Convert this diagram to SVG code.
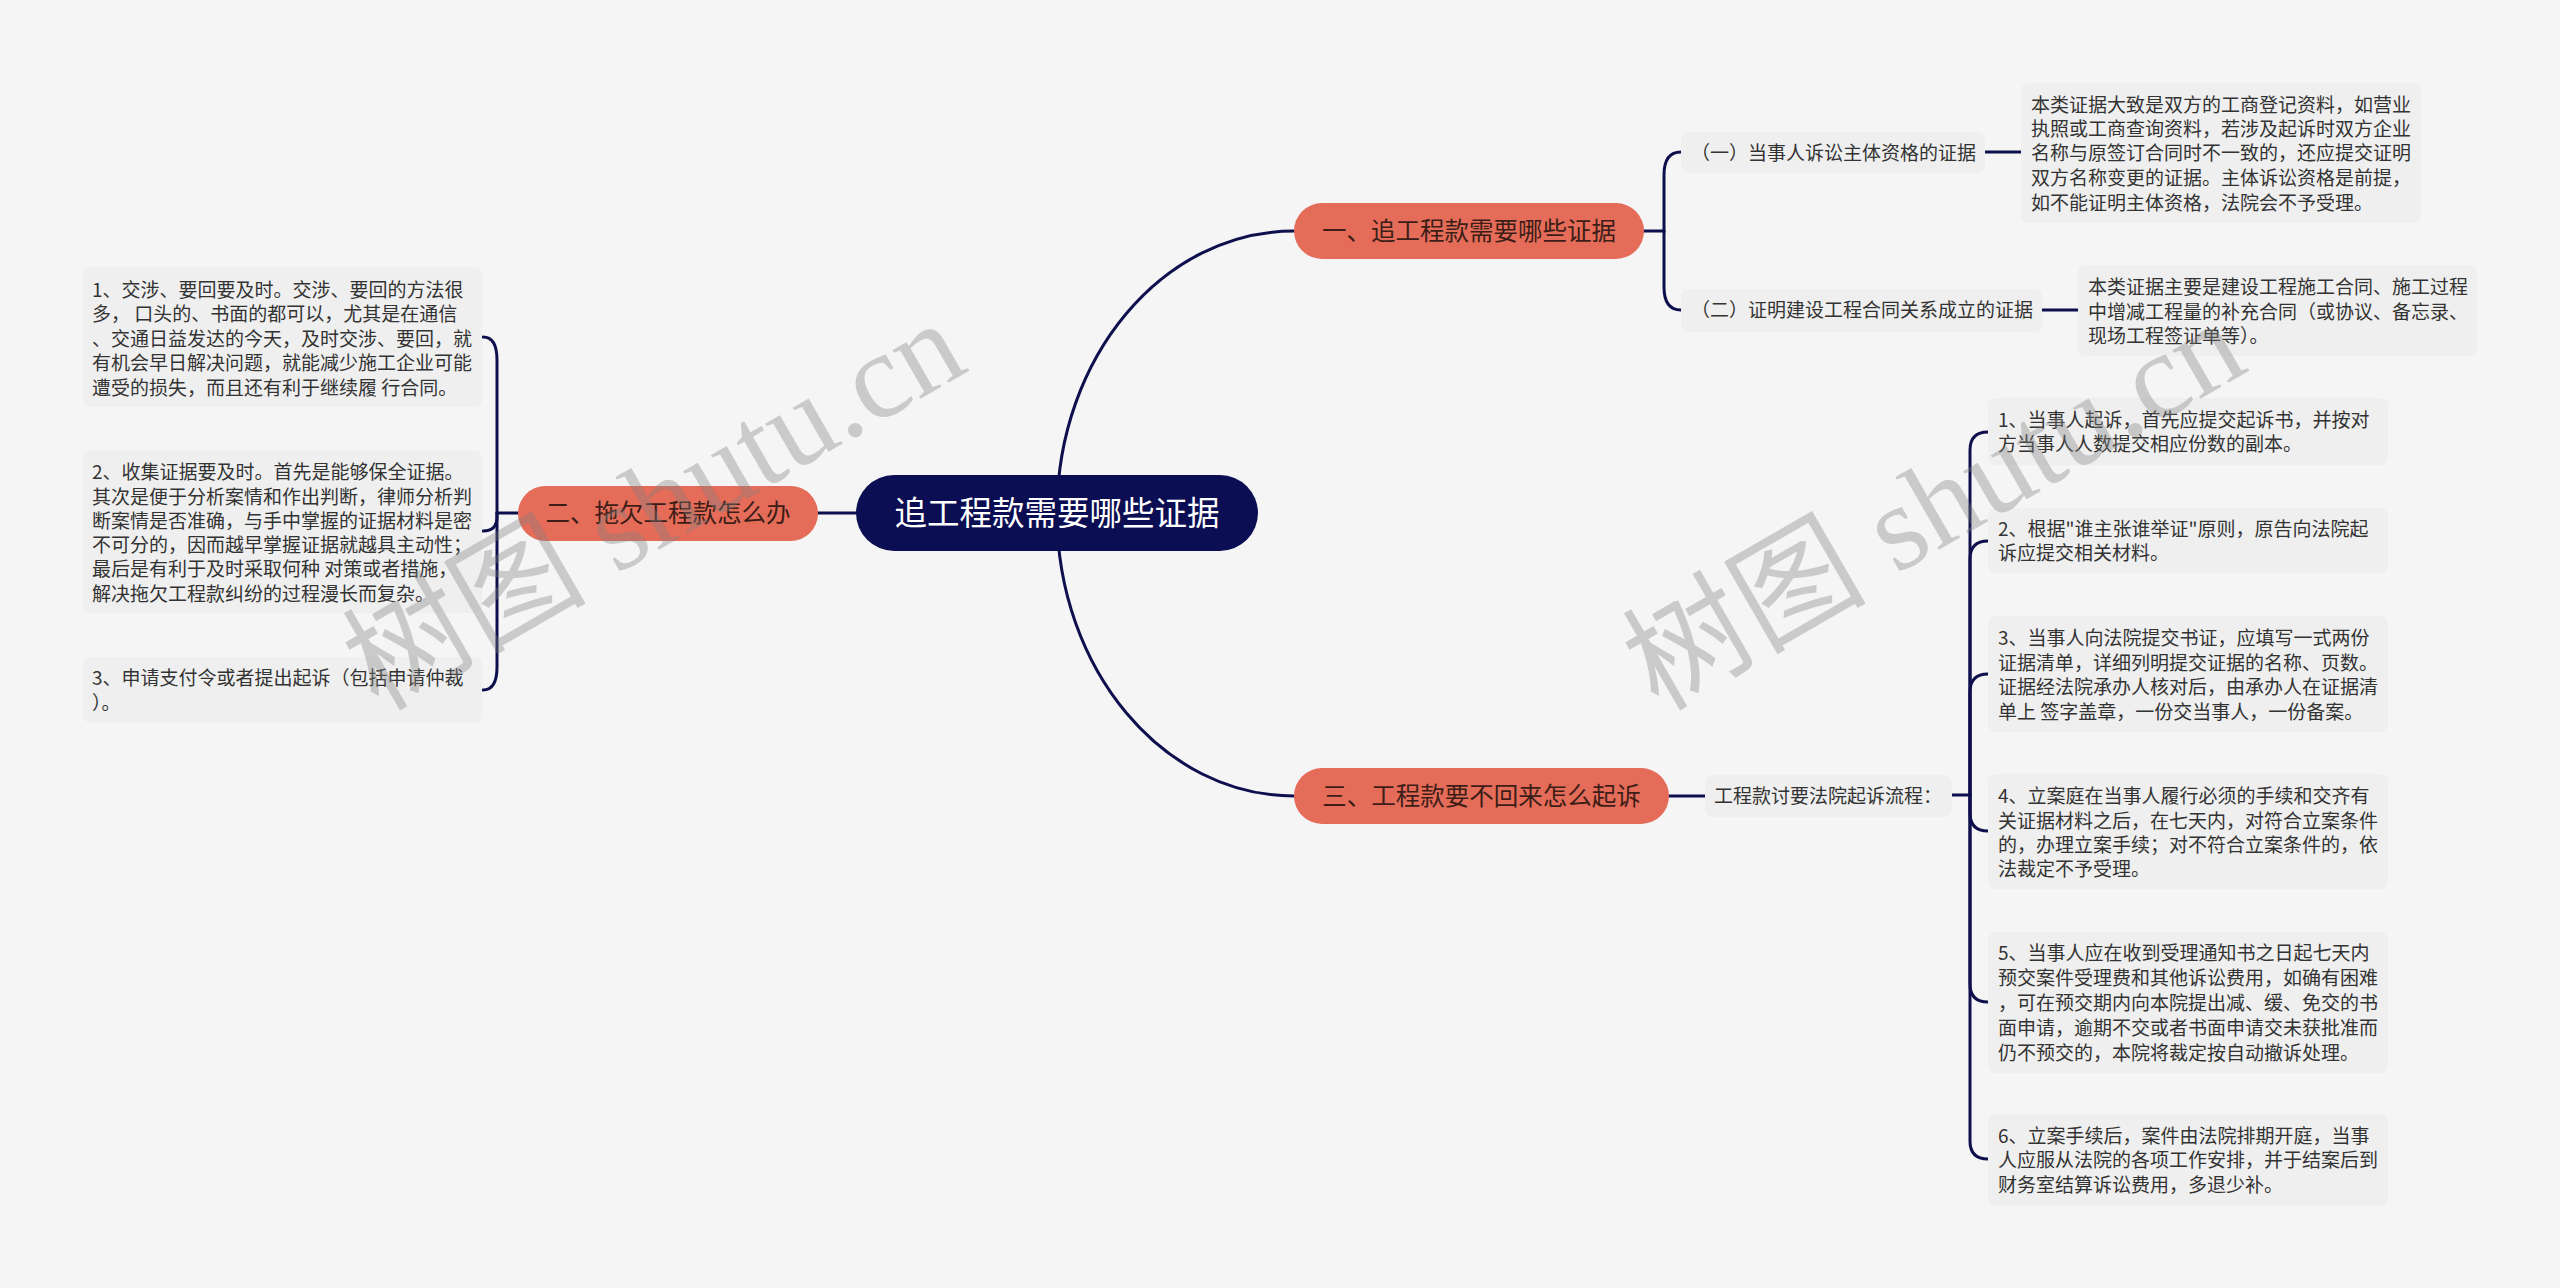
<svg xmlns="http://www.w3.org/2000/svg" width="2560" height="1288" viewBox="0 0 2560 1288">
<style>
.bg{fill:#f5f5f5}
.conn{fill:none;stroke:#0e0f4d;stroke-width:3;stroke-linecap:round}
.box{fill:#efefef}
.t{font-family:"Noto Sans CJK SC","Noto Sans",sans-serif;font-size:19px;fill:#333333}
.main{fill:#e46c58}
.mt{font-family:"Noto Sans CJK SC","Noto Sans",sans-serif;font-size:24.5px;fill:#3d1d17}
.root{fill:#0b0e52}
.rt{font-family:"Noto Sans CJK SC","Noto Sans",sans-serif;font-size:32.5px;fill:#ffffff}
.wm{font-family:"Liberation Serif","Noto Sans CJK SC",serif;font-size:122px;fill:#808080;fill-opacity:0.36}
</style>
<rect class="bg" x="0" y="0" width="2560" height="1288"/>

<g id="connectors">
<path class="conn" d="M1057,513 C1057,357 1163,231 1294,231"/>
<path class="conn" d="M1057,513 C1057,669 1163,796 1294,796"/>
<path class="conn" d="M856,513 H818"/>
<path class="conn" d="M518,513 H497 V360 Q497,337 483,337"/>
<path class="conn" d="M497,513 V517 Q497,531 483,531"/>
<path class="conn" d="M497,513 V667 Q497,690 483,690"/>
<path class="conn" d="M1644,231 H1664 V175 Q1664,152 1681,152"/>
<path class="conn" d="M1664,231 V287 Q1664,310 1681,310"/>
<path class="conn" d="M1985,152 H2021"/>
<path class="conn" d="M2042,310 H2078"/>
<path class="conn" d="M1669,796 H1705"/>
<path class="conn" d="M1952,795 H1970 V450 Q1970,432 1988,432"/>
<path class="conn" d="M1970,795 V559 Q1970,541 1988,541"/>
<path class="conn" d="M1970,795 V692 Q1970,674 1988,674"/>
<path class="conn" d="M1970,795 V813 Q1970,831 1988,831"/>
<path class="conn" d="M1970,795 V984 Q1970,1002 1988,1002"/>
<path class="conn" d="M1970,795 V1141 Q1970,1159 1988,1159"/>
</g>

<g id="root">
<rect class="root" x="856" y="475" width="402" height="76" rx="38"/>
<text class="rt" x="1057" y="525" text-anchor="middle">追工程款需要哪些证据</text>
</g>

<g id="n1">
<rect class="main" x="1294" y="203" width="350" height="56" rx="28"/>
<text class="mt" x="1469" y="240" text-anchor="middle">一、追工程款需要哪些证据</text>
</g>
<g id="n2">
<rect class="main" x="518" y="486" width="300" height="55" rx="27.5"/>
<text class="mt" x="668" y="522" text-anchor="middle">二、拖欠工程款怎么办</text>
</g>
<g id="n3">
<rect class="main" x="1294" y="768" width="375" height="56" rx="28"/>
<text class="mt" x="1481.5" y="805" text-anchor="middle">三、工程款要不回来怎么起诉</text>
</g>

<g id="n1a">
<rect class="box" x="1681" y="132" width="304" height="41" rx="8"/>
<text class="t" x="1691" y="160">（一）当事人诉讼主体资格的证据</text>
</g>
<g id="n1a1">
<rect class="box" x="2021" y="83" width="400" height="140" rx="8"/>
<text class="t" x="2031" y="112">本类证据大致是双方的工商登记资料，如营业</text>
<text class="t" x="2031" y="136">执照或工商查询资料，若涉及起诉时双方企业</text>
<text class="t" x="2031" y="160">名称与原签订合同时不一致的，还应提交证明</text>
<text class="t" x="2031" y="185">双方名称变更的证据。主体诉讼资格是前提，</text>
<text class="t" x="2031" y="210">如不能证明主体资格，法院会不予受理。</text>
</g>
<g id="n1b">
<rect class="box" x="1681" y="289" width="361" height="43" rx="8"/>
<text class="t" x="1691" y="317">（二）证明建设工程合同关系成立的证据</text>
</g>
<g id="n1b1">
<rect class="box" x="2078" y="265" width="399" height="91" rx="8"/>
<text class="t" x="2088" y="294">本类证据主要是建设工程施工合同、施工过程</text>
<text class="t" x="2088" y="319">中增减工程量的补充合同（或协议、备忘录、</text>
<text class="t" x="2088" y="343">现场工程签证单等）。</text>
</g>

<g id="n2a">
<rect class="box" x="83" y="267" width="399" height="140" rx="8"/>
<text class="t" x="92" y="297">1、交涉、要回要及时。交涉、要回的方法很</text>
<text class="t" x="92" y="321">多， 口头的、书面的都可以，尤其是在通信</text>
<text class="t" x="92" y="346">、交通日益发达的今天，及时交涉、要回，就</text>
<text class="t" x="92" y="370">有机会早日解决问题，就能减少施工企业可能</text>
<text class="t" x="92" y="395">遭受的损失，而且还有利于继续履 行合同。</text>
</g>
<g id="n2b">
<rect class="box" x="83" y="450" width="399" height="163" rx="8"/>
<text class="t" x="92" y="479">2、收集证据要及时。首先是能够保全证据。</text>
<text class="t" x="92" y="504">其次是便于分析案情和作出判断，律师分析判</text>
<text class="t" x="92" y="528">断案情是否准确，与手中掌握的证据材料是密</text>
<text class="t" x="92" y="552">不可分的，因而越早掌握证据就越具主动性；</text>
<text class="t" x="92" y="576">最后是有利于及时采取何种 对策或者措施，</text>
<text class="t" x="92" y="601">解决拖欠工程款纠纷的过程漫长而复杂。</text>
</g>
<g id="n2c">
<rect class="box" x="83" y="657" width="399" height="66" rx="8"/>
<text class="t" x="92" y="685">3、申请支付令或者提出起诉（包括申请仲裁</text>
<text class="t" x="92" y="710">）。</text>
</g>

<g id="n3a">
<rect class="box" x="1705" y="775" width="247" height="42" rx="8"/>
<text class="t" x="1714" y="803">工程款讨要法院起诉流程：</text>
</g>
<g id="n3a1">
<rect class="box" x="1988" y="398" width="400" height="67" rx="8"/>
<text class="t" x="1998" y="427">1、当事人起诉，首先应提交起诉书，并按对</text>
<text class="t" x="1998" y="451">方当事人人数提交相应份数的副本。</text>
</g>
<g id="n3a2">
<rect class="box" x="1988" y="508" width="400" height="65" rx="8"/>
<text class="t" x="1998" y="536">2、根据"谁主张谁举证"原则，原告向法院起</text>
<text class="t" x="1998" y="560">诉应提交相关材料。</text>
</g>
<g id="n3a3">
<rect class="box" x="1988" y="616" width="400" height="116" rx="8"/>
<text class="t" x="1998" y="645">3、当事人向法院提交书证，应填写一式两份</text>
<text class="t" x="1998" y="670">证据清单，详细列明提交证据的名称、页数。</text>
<text class="t" x="1998" y="694">证据经法院承办人核对后，由承办人在证据清</text>
<text class="t" x="1998" y="719">单上 签字盖章，一份交当事人，一份备案。</text>
</g>
<g id="n3a4">
<rect class="box" x="1988" y="774" width="400" height="115" rx="8"/>
<text class="t" x="1998" y="803">4、立案庭在当事人履行必须的手续和交齐有</text>
<text class="t" x="1998" y="828">关证据材料之后，在七天内，对符合立案条件</text>
<text class="t" x="1998" y="852">的，办理立案手续；对不符合立案条件的，依</text>
<text class="t" x="1998" y="876">法裁定不予受理。</text>
</g>
<g id="n3a5">
<rect class="box" x="1988" y="932" width="400" height="141" rx="8"/>
<text class="t" x="1998" y="960">5、当事人应在收到受理通知书之日起七天内</text>
<text class="t" x="1998" y="985">预交案件受理费和其他诉讼费用，如确有困难</text>
<text class="t" x="1998" y="1010">，可在预交期内向本院提出减、缓、免交的书</text>
<text class="t" x="1998" y="1035">面申请，逾期不交或者书面申请交未获批准而</text>
<text class="t" x="1998" y="1060">仍不预交的，本院将裁定按自动撤诉处理。</text>
</g>
<g id="n3a6">
<rect class="box" x="1988" y="1114" width="400" height="92" rx="8"/>
<text class="t" x="1998" y="1143">6、立案手续后，案件由法院排期开庭，当事</text>
<text class="t" x="1998" y="1167">人应服从法院的各项工作安排，并于结案后到</text>
<text class="t" x="1998" y="1192">财务室结算诉讼费用，多退少补。</text>
</g>

<g id="watermarks">
<text class="wm" x="378" y="712" transform="rotate(-30 378 712)">树图 shutu.cn</text>
<text class="wm" x="1658" y="712" transform="rotate(-30 1658 712)">树图 shutu.cn</text>
</g>
</svg>
